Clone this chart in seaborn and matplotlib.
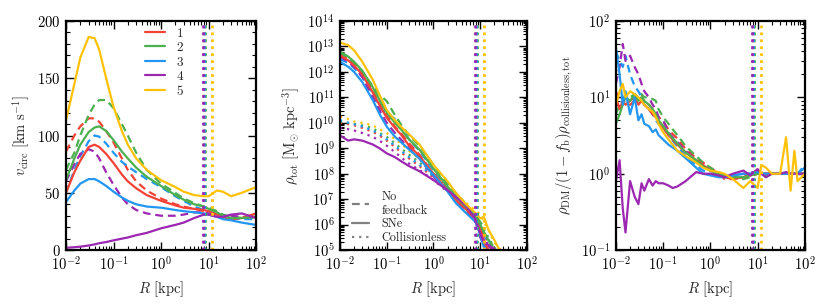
import numpy as np
import pandas as pd
import matplotlib
matplotlib.use("Agg")
import matplotlib.pyplot as plt
import seaborn as sns
from matplotlib.ticker import AutoMinorLocator, LogLocator, NullFormatter
from matplotlib.lines import Line2D

sns.set_theme(style="ticks")
plt.rcParams["font.family"] = ["cmr10", "DejaVu Serif"]
plt.rcParams["mathtext.fontset"] = "cm"
plt.rcParams["axes.unicode_minus"] = False
plt.rcParams["axes.formatter.use_mathtext"] = True

halos = ["1", "2", "3", "4", "5"]
colors = ["#f44336", "#4caf50", "#2196f3", "#9c27b0", "#ffc107"]
r_vir = [8.1, 8.4, 8.0, 7.6, 11.9]

# ---------------- panel 1 : circular velocity ----------------
R_v = [0.01, 0.015, 0.02, 0.03, 0.04, 0.05, 0.07, 0.1, 0.15, 0.2, 0.3, 0.5,
       1, 2, 3, 5, 8, 10, 15, 20, 30, 50, 100]
v_sne = {
    "1": [50, 68, 78, 90, 92, 90, 84, 76, 66, 60, 54, 48, 43, 39, 37, 36, 35, 34, 31, 29, 27, 28, 32],
    "2": [61, 80, 92, 103, 107, 108, 104, 96, 86, 80, 72, 64, 56, 48, 44, 40, 38, 36, 33, 30, 28, 28, 29],
    "3": [42, 52, 58, 62, 62, 60, 56, 51, 46, 43, 40, 38, 37, 35, 34, 33, 32, 31, 29, 27, 26, 24, 22],
    "4": [2, 2.5, 3, 4, 5, 6, 7, 8.5, 10, 11, 13, 15, 19, 22, 24, 28, 31, 31, 29, 29, 31, 32, 28],
    "5": [113, 145, 168, 186, 185, 175, 150, 125, 104, 92, 80, 70, 61, 55, 51, 48, 47, 47, 52, 51, 47, 50, 55],
}
v_nofb = {
    "1": [86, 100, 108, 115, 115, 112, 104, 94, 80, 70, 60, 52, 45, 40, 38, 36, 34, 33, 31, 29, 28, 28, 30],
    "2": [70, 85, 100, 118, 127, 131, 131, 124, 110, 100, 85, 70, 58, 50, 45, 41, 38, 37, 34, 31, 29, 28, 28],
    "3": [50, 70, 82, 95, 100, 99, 93, 85, 77, 73, 68, 62, 55, 47, 43, 38, 35, 34, 31, 29, 28, 27, 27],
    "4": [60, 75, 84, 88, 86, 80, 68, 57, 46, 40, 35, 32, 30, 30, 31, 33, 33, 32, 31, 30, 30, 29, 28],
}

# ---------------- panel 2 : total density (log10) ----------------
R_rho = [0.01, 0.015, 0.02, 0.03, 0.05, 0.07, 0.1, 0.15, 0.2, 0.3, 0.5, 1, 2, 3,
         5, 8, 10, 12, 15, 20, 25, 30]
logrho_sne = {
    "1": [12.65, 12.45, 12.25, 11.9, 11.2, 10.7, 10.2, 9.8, 9.55, 9.1, 8.7, 8.0, 7.35, 6.95, 6.6, 6.2, 5.85, 5.4, 5.0, 4.7, 4.5, 4.3],
    "2": [12.8, 12.6, 12.4, 12.05, 11.4, 10.9, 10.4, 10.0, 9.75, 9.35, 8.95, 8.2, 7.5, 7.1, 6.7, 6.3, 6.0, 5.7, 5.4, 5.0, 4.7, 4.5],
    "3": [12.4, 12.2, 12.0, 11.6, 10.9, 10.35, 9.85, 9.45, 9.25, 8.95, 8.6, 7.95, 7.3, 6.85, 6.45, 6.1, 5.6, 5.1, 4.8, 4.6, 4.4, 4.2],
    "4": [9.5, 9.3, 9.35, 9.3, 9.15, 9.0, 8.8, 8.65, 8.5, 8.3, 8.1, 7.75, 7.35, 7.1, 6.75, 6.2, 5.65, 5.3, 5.2, 5.05, 4.9, 4.7],
    "5": [13.15, 13.05, 12.85, 12.4, 11.7, 11.1, 10.5, 10.1, 9.85, 9.55, 9.15, 8.35, 7.7, 7.25, 6.8, 6.45, 6.25, 6.3, 5.8, 5.4, 5.05, 4.8],
}
logrho_nofb = {
    "1": [12.7, 12.5, 12.3, 11.95, 11.25, 10.75, 10.3, 9.85, 9.6, 9.2, 8.75, 8.0, 7.35, 6.95, 6.6, 6.2, 5.8, 5.35, 5.0, 4.7, 4.5, 4.3],
    "2": [12.75, 12.55, 12.35, 12.0, 11.45, 11.1, 10.85, 10.3, 9.95, 9.5, 9.1, 8.35, 7.6, 7.25, 6.8, 6.4, 6.1, 5.7, 5.4, 5.1, 4.8, 4.5],
    "3": [12.5, 12.35, 12.15, 11.8, 11.15, 10.6, 10.35, 10.15, 9.8, 9.35, 8.9, 8.15, 7.45, 7.0, 6.6, 6.2, 5.7, 5.2, 4.9, 4.6, 4.4, 4.2],
    "4": [12.6, 12.4, 12.2, 11.8, 11.0, 10.5, 10.0, 9.6, 9.35, 9.0, 8.6, 7.9, 7.3, 6.95, 6.55, 6.1, 5.5, 5.2, 5.15, 5.0, 4.8, 4.6],
}
logrho_coll = {
    "1": [10.0, 9.95, 9.9, 9.8, 9.65, 9.5, 9.3, 9.05, 8.85, 8.6, 8.3, 7.85, 7.4, 7.05, 6.7, 6.3, 6.0, 5.6, 5.3, 5.0, 4.8, 4.6],
    "2": [10.05, 10.0, 9.95, 9.9, 9.8, 9.6, 9.45, 9.2, 9.0, 8.75, 8.45, 7.95, 7.45, 7.1, 6.75, 6.4, 6.15, 5.8, 5.5, 5.1, 4.9, 4.7],
    "3": [10.1, 10.0, 9.95, 9.85, 9.7, 9.55, 9.35, 9.1, 8.9, 8.65, 8.35, 7.9, 7.4, 7.05, 6.7, 6.3, 6.0, 5.6, 5.2, 4.9, 4.7, 4.5],
    "4": [9.8, 9.75, 9.7, 9.6, 9.45, 9.3, 9.1, 8.85, 8.65, 8.4, 8.15, 7.75, 7.3, 7.0, 6.65, 6.25, 5.9, 5.5, 5.2, 4.9, 4.7, 4.5],
    "5": [10.25, 10.15, 10.05, 10.0, 9.9, 9.75, 9.6, 9.35, 9.2, 8.9, 8.6, 8.05, 7.55, 7.2, 6.85, 6.55, 6.4, 6.1, 5.8, 5.3, 5.1, 4.9],
}

# ---------------- panel 3 : DM density ratio ----------------
R_ratio = [0.01, 0.012, 0.014, 0.016, 0.02, 0.025, 0.03, 0.035, 0.04, 0.05,
           0.06, 0.07, 0.08, 0.1, 0.13, 0.16, 0.2, 0.3, 0.5, 0.7,
           1, 1.5, 2, 3, 5, 7, 10, 12, 15, 20, 30, 40, 50, 60, 70, 100]
ratio_sne = {
    "1": [10, 7, 9, 8, 9, 10, 8, 9, 8, 7, 6, 5.5, 5, 4, 3.2, 2.8, 2.4, 1.9, 1.5, 1.3, 1.1, 1.0, 0.9, 0.85, 0.9, 0.95, 1.0, 1.0, 1.0, 1.0, 1.0, 1.0, 1.0, 1.0, 1.0, 1.0],
    "2": [4.5, 6, 8, 10, 9, 11, 9, 10, 9, 8, 7, 6, 5, 4.2, 3.4, 2.9, 2.5, 1.9, 1.5, 1.25, 1.1, 1.0, 0.95, 0.9, 0.9, 0.95, 1.0, 1.0, 0.9, 1.0, 1.0, 1.0, 1.0, 1.0, 1.0, 1.0],
    "3": [45, 20, 8, 12, 6, 10, 5, 6, 4.5, 4.2, 3.5, 3.8, 3.2, 2.8, 2.4, 2.2, 2.0, 1.6, 1.2, 1.0, 0.95, 0.9, 0.9, 0.95, 1.0, 1.0, 1.05, 1.0, 1.0, 1.0, 1.0, 1.0, 1.0, 1.0, 1.0, 1.2],
    "4": [0.8, 1.5, 0.35, 0.17, 0.8, 0.5, 0.4, 0.75, 0.6, 0.85, 0.7, 0.8, 0.75, 0.75, 0.7, 0.65, 0.68, 0.8, 1.05, 1.0, 1.0, 0.95, 0.9, 1.0, 1.1, 0.95, 1.15, 1.0, 0.9, 1.0, 1.0, 1.05, 1.0, 1.0, 1.0, 1.0],
    "5": [8, 12, 15, 10, 12, 11, 10, 9, 8, 7, 6.5, 5.5, 4.5, 3.5, 2.8, 2.4, 2.0, 1.7, 1.4, 1.2, 1.1, 1.05, 1.0, 0.85, 0.65, 0.8, 0.65, 1.3, 1.2, 1.0, 1.0, 3.0, 0.6, 2.0, 0.8, 1.0],
}
ratio_nofb = {
    "1": [12, 9, 10, 8, 8, 9, 9, 10, 9, 8, 7, 6.5, 5.5, 4.8, 3.8, 3.3, 2.9, 2.1, 1.6, 1.4, 1.2, 1.0, 0.85, 0.85, 0.9, 1.0, 1.0, 1.0, 1.0, 1.0, 1.0, 1.0, 1.0, 1.0, 1.0, 1.0],
    "2": [6, 8, 9, 10, 10, 11, 10, 11, 10, 10, 9.5, 9, 7, 5.5, 4.5, 3.8, 3.2, 2.3, 1.7, 1.4, 1.2, 1.05, 0.95, 0.9, 0.85, 0.9, 1.0, 1.1, 0.95, 1.0, 1.0, 1.0, 1.0, 1.0, 1.0, 1.0],
    "3": [40, 30, 25, 35, 20, 14, 12, 10, 8, 7, 6, 5, 4.5, 4, 3.2, 2.7, 2.3, 1.7, 1.3, 1.1, 1.0, 0.95, 0.9, 0.95, 1.0, 1.0, 1.05, 1.0, 1.0, 1.0, 1.0, 1.0, 1.0, 1.0, 1.0, 1.3],
    "4": [15, 25, 50, 30, 35, 25, 20, 15, 12, 10, 8, 7, 5.5, 5, 3.5, 3, 2.6, 2.0, 1.5, 1.3, 1.1, 1.0, 0.95, 0.9, 1.0, 1.0, 1.1, 1.0, 1.0, 1.0, 1.0, 1.0, 1.0, 1.0, 1.0, 1.0],
}

LW = 1.6
DASH = (0, (3.5, 2.2))
DOT = (0, (1, 2.2))
fig = plt.figure(figsize=(8.3, 3.08), dpi=100)
ax1 = fig.add_axes([0.0795, 0.188, 0.229, 0.744])
ax2 = fig.add_axes([0.4096, 0.188, 0.2253, 0.744])
ax3 = fig.add_axes([0.742, 0.188, 0.2277, 0.744])


def draw(ax, R, y, color, ls):
    sns.lineplot(x=R, y=y, ax=ax, color=color, linestyle=ls, lw=LW, sort=False,
                 estimator=None, legend=False)


# panel 1
for h, c in zip(halos, colors):
    if h in v_nofb:
        draw(ax1, R_v, v_nofb[h], c, DASH)
for h, c in zip(halos, colors):
    draw(ax1, R_v, v_sne[h], c, "-")

# panel 2
for h, c in zip(halos, colors):
    draw(ax2, R_rho, 10 ** np.array(logrho_coll[h]), c, DOT)
for h, c in zip(halos, colors):
    if h in logrho_nofb:
        draw(ax2, R_rho, 10 ** np.array(logrho_nofb[h]), c, DASH)
for h, c in zip(halos, colors):
    draw(ax2, R_rho, 10 ** np.array(logrho_sne[h]), c, "-")

# panel 3
for h, c in zip(halos, colors):
    if h in ratio_nofb:
        draw(ax3, R_ratio, ratio_nofb[h], c, DASH)
for h, c in zip(halos, colors):
    draw(ax3, R_ratio, ratio_sne[h], c, "-")

for ax in (ax1, ax2, ax3):
    for rv, c in zip(r_vir, colors):
        ax.axvline(rv, color=c, ls=(0, (1, 1.5)), lw=2)
    ax.set_xscale("log")
    ax.set_xlim(1e-2, 1e2)
    ax.xaxis.set_major_locator(LogLocator(base=10, numticks=10))
    ax.xaxis.set_minor_locator(LogLocator(base=10, subs=np.arange(2, 10), numticks=20))
    ax.xaxis.set_minor_formatter(NullFormatter())
    ax.set_xlabel(r"$R\ [{\rm kpc}]$", fontsize=10.5)
    ax.tick_params(which="both", direction="in", top=True, right=True, labelsize=10.5,
                   colors="black", pad=4)
    ax.tick_params(which="major", length=6, width=1)
    ax.tick_params(which="minor", length=3, width=0.8)
    for s in ax.spines.values():
        s.set_linewidth(1.6)
        s.set_color("black")

ax1.set_ylim(0, 200)
ax1.set_yticks([0, 50, 100, 150, 200])
ax1.yaxis.set_minor_locator(AutoMinorLocator(5))
ax1.set_ylabel(r"$v_{\rm circ}\ [{\rm km\ s}^{-1}]$", fontsize=10.5)

ax2.set_yscale("log")
ax2.set_ylim(1e5, 1e14)
ax2.yaxis.set_major_locator(LogLocator(base=10, numticks=20))
ax2.yaxis.set_minor_locator(LogLocator(base=10, subs=np.arange(2, 10), numticks=40))
ax2.yaxis.set_minor_formatter(NullFormatter())
ax2.set_ylabel(r"$\rho_{\rm tot}\ [{\rm M}_{\odot}\ {\rm kpc}^{-3}]$", fontsize=10.5)

ax3.set_yscale("log")
ax3.set_ylim(1e-1, 1e2)
ax3.yaxis.set_major_locator(LogLocator(base=10, numticks=10))
ax3.yaxis.set_minor_locator(LogLocator(base=10, subs=np.arange(2, 10), numticks=20))
ax3.yaxis.set_minor_formatter(NullFormatter())
ax3.set_ylabel(r"$\rho_{\rm DM}/(1-f_{\rm b})\rho_{\rm collisionless,tot}$", fontsize=10.5)

# legends
h1 = [Line2D([], [], color=c, lw=LW) for c in colors]
ax1.legend(h1, halos, loc="upper left", bbox_to_anchor=(0.39, 0.995), borderaxespad=0,
           frameon=False, fontsize=9.5, handlelength=1.5, labelspacing=0.17,
           handletextpad=0.85)
h2 = [Line2D([], [], color="gray", lw=LW, ls=DASH),
      Line2D([], [], color="gray", lw=LW, ls="-"),
      Line2D([], [], color="gray", lw=LW, ls=DOT)]
ax2.legend(h2, ["No\nfeedback", "SNe", "Collisionless"], loc="lower left",
           bbox_to_anchor=(0.04, 0.005), borderaxespad=0, frameon=False, fontsize=8.8,
           handlelength=1.4, labelspacing=0.12, handletextpad=1.0)

fig.savefig("out.png", dpi=100)
